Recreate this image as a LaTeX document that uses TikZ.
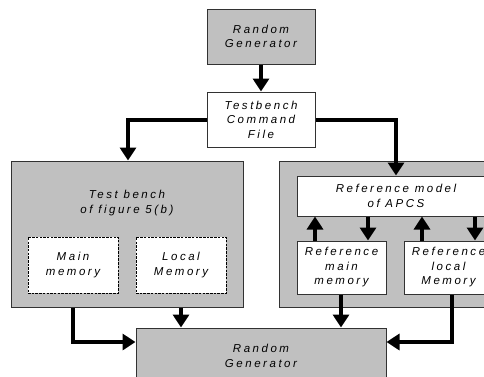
\documentclass[tikz,border=0pt]{standalone}
\usepackage{fontspec}
\newfontfamily\lblfont{Liberation Sans}[LetterSpace=22]
\usetikzlibrary{arrows.meta}
\definecolor{boxgray}{RGB}{192,192,192}
\definecolor{edgegray}{RGB}{50,50,50}
\tikzset{
  lbl/.style={font=\lblfont\itshape\fontsize{11.5}{14.5}\selectfont, align=center},
  graybox/.style={draw=edgegray, line width=1pt, fill=boxgray, inner sep=0pt},
  whitebox/.style={draw=edgegray, line width=1pt, fill=white, inner sep=0pt},
  memdash/.style={draw=black, line width=0.8pt, fill=white, dash pattern=on 2.5pt off 1.2pt, inner sep=0pt},
  flow/.style={line width=4pt, -{Triangle[width=16pt,length=13pt]}},
}
\begin{document}
\begin{tikzpicture}[x=1pt,y=-1pt]
\useasboundingbox (0,0) rectangle (484,376);
\clip (0,0) rectangle (484,376);

% source and command file
\node[graybox, lbl, minimum width=108, minimum height=55] (src) at (261,36.5) {Random\\Generator};
\node[whitebox, lbl, minimum width=108, minimum height=55] (cmd) at (261,119.5) {Testbench\\Command\\File};

% left block: test bench with its memories
\node[graybox, minimum width=232, minimum height=146] (tb) at (127,234) {};
\node[lbl] (tbtxt) at (127,203) {Test bench\\of figure 5(b)};
\node[memdash, lbl, minimum width=90, minimum height=56] (mm) at (73,265) {Main\\memory};
\node[memdash, lbl, minimum width=90, minimum height=56] (lm) at (181,265) {Local\\Memory};

% right block: reference model with its memories
\node[graybox, minimum width=232, minimum height=146] (rb) at (395,234) {};
\node[whitebox, lbl, minimum width=198, minimum height=40] (ref) at (396,196) {Reference model\\of APCS};
\node[whitebox, lbl, minimum width=89, minimum height=53] (rmm) at (341.5,267.5) {Reference\\main\\memory};
\node[whitebox, lbl, minimum width=89, minimum height=53] (rlm) at (448.5,267.5) {Reference\\local\\Memory};

% sink
\node[graybox, minimum width=250, minimum height=56] (dst) at (261,356) {};
\node[lbl] (dsttxt) at (261,356) {Random\\Generator};

% connectors
\draw[flow] (src.south) -- (cmd.north);
\draw[flow] (cmd.west |- 0,120) -| (tb.north -| 128,0);
\draw[flow] (cmd.east |- 0,120) -| (ref.north -| 396,0);

\draw[flow] (rmm.north -| 315,0) -- (ref.south -| 315,0);
\draw[flow] (ref.south -| 368,0) -- (rmm.north -| 368,0);
\draw[flow] (rlm.north -| 422,0) -- (ref.south -| 422,0);
\draw[flow] (ref.south -| 475,0) -- (rlm.north -| 475,0);

\draw[flow] (tb.south -| 73,0) |- (dst.west |- 0,342);
\draw[flow] (tb.south -| 181,0) -- (dst.north -| 181,0);
\draw[flow] (rmm.south -| 341,0) -- (dst.north -| 341,0);
\draw[flow] (rlm.south -| 452,0) |- (dst.east |- 0,342);
\end{tikzpicture}
\end{document}
